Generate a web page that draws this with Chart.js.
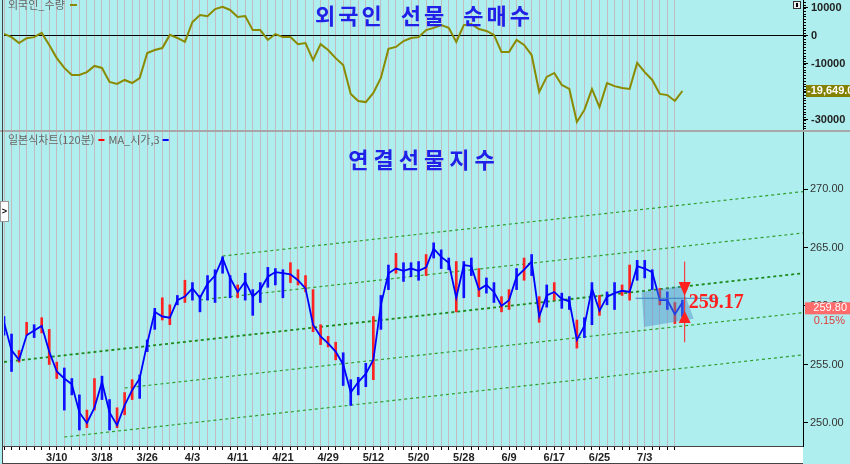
<!DOCTYPE html>
<html lang="ko">
<head>
<meta charset="utf-8" />
<title>연결선물지수</title>
<style>
  html, body { margin: 0; padding: 0; background: #afeeee; }
  canvas { display: block; }
</style>
</head>
<body>
<canvas id="chart" width="850" height="464"></canvas>
<script src="https://cdn.jsdelivr.net/npm/chart.js@4.4.1/dist/chart.umd.min.js"></script>
<script>
// 거래일 (2014)
const dates = ['2/27','2/28','3/3','3/4','3/5','3/6','3/7','3/10','3/11','3/12','3/13','3/14','3/17','3/18','3/19','3/20','3/21','3/24','3/25','3/26',
  '3/27','3/28','3/31','4/1','4/2','4/3','4/4','4/7','4/8','4/9','4/10','4/11','4/14','4/15','4/16','4/17','4/18','4/21','4/22','4/23',
  '4/24','4/25','4/28','4/29','4/30','5/2','5/7','5/8','5/9','5/12','5/13','5/14','5/15','5/16','5/19','5/20','5/21','5/22','5/23','5/26',
  '5/27','5/28','5/29','5/30','6/2','6/3','6/5','6/9','6/10','6/11','6/12','6/13','6/16','6/17','6/18','6/19','6/20','6/23','6/24','6/25',
  '6/26','6/27','6/30','7/1','7/2','7/3','7/4','7/7','7/8','7/9','7/10'];
const labeledDates = ['3/10','3/18','3/26','4/3','4/11','4/21','4/29','5/12','5/20','5/28','6/9','6/17','6/25','7/3'];

// 외국인 선물 누적 순매수 (계약)
const foreign = [700,-400,-2500,-800,-400,1100,-3200,-7900,-11400,-13900,-13900,-12900,-10700,-11400,-16400,-17100,-15700,-16800,-15000,-6100,
  -5000,-4300,400,-700,-2100,5000,7500,7100,9600,10400,9300,6800,7100,2100,2100,-1400,700,-400,-400,-2900,
  -2500,-8600,-2900,-5000,-7900,-10400,-20700,-23200,-23600,-20300,-15000,-4600,-3900,-1800,-700,-400,2100,2900,3900,2900,
  -2100,3900,4300,2500,1800,400,-5700,-5700,-1400,-3200,-6800,-20000,-14600,-13200,-17500,-18900,-30700,-26400,-18900,-25400,
  -16800,-17900,-18600,-18900,-9600,-12900,-15700,-20700,-21100,-23200,-19649];

// 연결선물지수 : MA(시가,3), 고가, 저가
const ma = [258.6,256.2,255.4,257.5,257.9,258.3,256.1,254.4,253.8,253.3,250.9,250.0,251.3,253.5,250.9,249.8,251.5,252.8,253.8,256.8,
  259.5,259.1,259.0,260.5,260.8,261.5,260.7,261.9,262.6,264.1,262.4,261.2,262.1,260.8,261.4,262.5,262.9,262.8,262.7,262.2,
  261.5,258.4,257.4,256.8,256.1,255.0,252.6,253.5,254.2,255.4,260.1,262.8,263.2,263.0,263.2,263.0,263.3,264.9,264.2,263.7,
  260.7,263.5,263.4,261.4,261.8,261.2,260.0,260.5,262.5,263.1,263.8,259.1,260.9,261.2,260.6,260.4,257.1,258.3,261.5,259.6,
  260.8,261.1,261.3,261.2,263.4,263.2,262.9,260.5,260.5,259.3,260.3];
const hi = [259.1,257.6,256.2,258.6,258.4,259.0,258.0,255.2,254.7,253.8,252.4,251.1,253.8,254.0,252.0,251.3,252.6,253.7,254.1,257.1,
  259.8,260.7,260.1,260.9,262.2,262.0,260.9,262.6,263.1,264.2,262.6,261.8,262.8,261.4,262.0,263.3,263.2,263.1,263.7,263.1,
  262.6,261.4,258.4,257.4,256.9,256.0,253.7,253.9,255.1,259.1,260.9,263.5,264.5,263.7,263.7,263.8,264.4,265.4,264.8,264.1,
  263.8,263.8,264.1,263.2,262.4,262.0,260.8,261.4,263.2,264.1,264.4,260.8,261.8,262.0,261.1,260.8,258.8,259.0,262.0,260.9,
  261.2,262.0,261.8,263.5,263.9,263.9,263.1,261.5,261.2,260.3,260.5];
const lo = [257.5,254.4,255.2,257.5,257.3,257.7,255.0,253.8,251.1,252.4,249.4,249.6,251.1,252.0,249.4,249.6,250.7,252.0,252.1,256.1,
  258.0,258.8,258.4,260.1,260.3,260.5,259.5,260.5,260.3,262.8,260.7,260.7,260.5,259.2,260.3,261.6,261.8,260.7,262.0,261.8,
  261.2,257.8,256.7,256.5,255.4,253.2,251.5,252.4,253.1,253.7,258.0,261.4,262.8,262.1,262.5,262.2,262.6,264.1,263.2,263.1,
  259.5,260.7,262.6,260.8,261.1,260.3,259.5,259.7,261.4,262.2,262.6,258.6,259.9,260.5,259.8,259.7,256.4,257.3,258.4,259.2,
  260.1,259.7,260.9,260.5,262.2,262.4,261.4,260.1,259.7,258.5,259.1];

const foreignTicks = [-30000, -25000, -20000, -15000, -10000, -5000, 0, 5000, 10000];
const priceTicks = [250, 255, 260, 265, 270];

// 추세 채널: [시작 인덱스, 시작 가격, 끝 인덱스, 끝 가격]
const channels = [
  [29, 264.27, 106, 269.78],
  [26, 260.51, 106, 266.24],
  [0, 255.21, 106, 262.80],
  [16, 252.99, 106, 259.43],
  [8, 248.80, 106, 255.82]
];

const lastPrice = 259.80;
const lastChange = '0.15%';
const markPrice = 259.17;
// 마지막 구간 표시 (인덱스, 가격)
const markBox = [[84.6, 261.2], [89.9, 261.7], [91.5, 258.9], [84.9, 258.2]];
const markLevel = [83.8, 94.8, 260.66];
const markArrow = [90.3, 263.8, 256.9, 262.05, 260.85, 258.55, 259.6];

const back = '#afeeee';
const gridCol = '#c4bac0';
const sans = "'Liberation Sans', Arial, sans-serif";
const kr = "'Noto Sans CJK KR', sans-serif";

const noPad = (axis) => {
  axis.paddingTop = 0;
  axis.paddingBottom = 0;
  axis.paddingLeft = 0;
  axis.paddingRight = 0;
};

const panels = {
  id: 'panels',
  beforeDraw(chart) {
    const { ctx, chartArea: a, scales: { x } } = chart;
    ctx.save();
    ctx.fillStyle = back;
    ctx.fillRect(0, 0, chart.width, chart.height);
    ctx.fillStyle = '#fff';
    ctx.fillRect(a.left - 1, a.bottom, a.right - a.left + 1, x.bottom - a.bottom - 1);
    ctx.restore();
  },
  afterDatasetsDraw(chart) {
    const { ctx, scales: { x, yp } } = chart;
    ctx.save();
    // 선택 구간 박스
    ctx.fillStyle = 'rgba(70,140,200,0.45)';
    ctx.beginPath();
    markBox.forEach(([i, p], k) => {
      const px = x.getPixelForValue(i), py = yp.getPixelForValue(p);
      if (k === 0) ctx.moveTo(px, py); else ctx.lineTo(px, py);
    });
    ctx.closePath();
    ctx.fill();
    ctx.strokeStyle = '#3a7fc0';
    ctx.lineWidth = 1;
    const ly = yp.getPixelForValue(markLevel[2]);
    ctx.beginPath();
    ctx.moveTo(x.getPixelForValue(markLevel[0]), ly);
    ctx.lineTo(x.getPixelForValue(markLevel[1]), ly);
    ctx.stroke();
    // 화살표
    const ax = x.getPixelForValue(markArrow[0]);
    ctx.strokeStyle = '#ff2020';
    ctx.fillStyle = '#ff2020';
    ctx.beginPath();
    ctx.moveTo(ax, yp.getPixelForValue(markArrow[1]));
    ctx.lineTo(ax, yp.getPixelForValue(markArrow[2]));
    ctx.stroke();
    const tri = (base, tip) => {
      const b = yp.getPixelForValue(base), t = yp.getPixelForValue(tip);
      ctx.beginPath();
      ctx.moveTo(ax - 6, b);
      ctx.lineTo(ax + 6, b);
      ctx.lineTo(ax, t);
      ctx.closePath();
      ctx.fill();
    };
    tri(markArrow[3], markArrow[4]);
    tri(markArrow[5], markArrow[6]);
    ctx.font = "bold 20px 'Liberation Serif', 'DejaVu Serif', serif";
    ctx.textBaseline = 'middle';
    ctx.textAlign = 'left';
    ctx.fillText(markPrice.toFixed(2), ax + 4, yp.getPixelForValue(260.26));
    ctx.restore();
  },
  afterDraw(chart) {
    const { ctx, chartArea: a, scales: { x, yf, yp } } = chart;
    ctx.save();
    // 패널 구분선
    ctx.fillStyle = '#a8a8a8';
    ctx.fillRect(0, yf.bottom - 1, chart.width, 2);
    // 왼쪽 테두리와 날짜 영역
    ctx.strokeStyle = '#444';
    ctx.lineWidth = 1;
    ctx.beginPath();
    ctx.moveTo(a.left - 1.5, 0);
    ctx.lineTo(a.left - 1.5, x.bottom);
    ctx.moveTo(a.left - 1, a.bottom + 0.5);
    ctx.lineTo(a.right, a.bottom + 0.5);
    ctx.moveTo(a.left - 1, x.bottom - 0.5);
    ctx.lineTo(a.right, x.bottom - 0.5);
    ctx.stroke();
    // 보조 눈금
    ctx.strokeStyle = '#000';
    ctx.beginPath();
    for (let v = -33000; v <= 12000; v += 1000) {
      const py = Math.round(yf.getPixelForValue(v)) + 0.5;
      ctx.moveTo(a.right, py);
      ctx.lineTo(a.right + 3, py);
    }
    ctx.stroke();
    // 제목
    ctx.fillStyle = '#2020e8';
    ctx.textAlign = 'center';
    ctx.textBaseline = 'middle';
    ctx.font = 'bold 22px ' + kr;
    ctx.letterSpacing = '3px';
    ctx.fillText('외국인  선물  순매수', 424, 16);
    ctx.letterSpacing = '5px';
    ctx.fillText('연결선물지수', 424, 160);
    ctx.letterSpacing = '0px';
    // 범례
    ctx.textAlign = 'left';
    ctx.font = '11px ' + kr;
    ctx.fillStyle = '#666';
    ctx.fillText('외국인_수량', 8, 5);
    ctx.fillStyle = '#8a8a00';
    ctx.fillRect(70, 4, 7, 2);
    ctx.fillStyle = '#666';
    ctx.fillText('일본식차트(120분)', 8, 140);
    let lx = 8 + ctx.measureText('일본식차트(120분)').width + 4;
    ctx.fillStyle = '#ff0000';
    ctx.fillRect(lx, 139, 6, 2);
    lx += 10;
    ctx.fillStyle = '#666';
    ctx.fillText('MA_시가,3', lx, 140);
    lx += ctx.measureText('MA_시가,3').width + 3;
    ctx.fillStyle = '#0000ff';
    ctx.fillRect(lx, 139, 6, 2);
    // 현재값 표시
    const fy = yf.getPixelForValue(foreign[foreign.length - 1]);
    ctx.fillStyle = '#848000';
    ctx.fillRect(a.right + 3, fy - 6, chart.width - a.right - 3, 12);
    ctx.fillStyle = '#fff';
    ctx.font = 'bold 11px ' + sans;
    ctx.fillText(foreign[foreign.length - 1].toLocaleString('en-US', { minimumFractionDigits: 1 }), a.right + 4, fy);
    const py = yp.getPixelForValue(lastPrice);
    ctx.fillStyle = '#ff6a6a';
    ctx.fillRect(a.right + 2, py - 6, chart.width - a.right - 2, 12);
    ctx.fillStyle = '#fff';
    ctx.font = '11px ' + sans;
    ctx.textAlign = 'right';
    ctx.fillText(lastPrice.toFixed(2), chart.width - 3, py);
    ctx.fillStyle = '#e03a3a';
    ctx.fillText(lastChange, chart.width - 5, py + 13);
    // 작은 버튼
    ctx.fillStyle = '#fff';
    ctx.fillRect(0, 201, 9, 21);
    ctx.strokeStyle = '#999';
    ctx.strokeRect(0.5, 201.5, 8, 20);
    ctx.fillStyle = '#000';
    ctx.textAlign = 'center';
    ctx.font = 'bold 9px ' + sans;
    ctx.fillText('>', 4.5, 212);
    ctx.fillStyle = '#eee';
    ctx.fillRect(793, 1, 8, 8);
    ctx.strokeStyle = '#333';
    ctx.strokeRect(793.5, 1.5, 7, 7);
    ctx.fillStyle = '#000';
    ctx.fillRect(796, 3, 2, 4);
    ctx.restore();
  }
};

const channelSets = channels.map((c, k) => ({
  type: 'line',
  data: [{ x: c[0], y: c[1] }, { x: c[2], y: c[3] }],
  yAxisID: 'yp',
  borderColor: k === 2 ? '#1c8a1c' : '#2f9f2f',
  borderWidth: k === 2 ? 1.8 : 1.2,
  borderDash: [3, 3],
  pointRadius: 0
}));

new Chart(document.getElementById('chart'), {
  type: 'line',
  data: {
    datasets: [
      {
        type: 'line',
        data: ma.map((v, i) => ({ x: i, y: v })),
        yAxisID: 'yp',
        borderColor: '#0000ff',
        borderWidth: 1.8,
        pointRadius: 0,
        tension: 0
      },
      {
        type: 'bar',
        data: dates.map((d, i) => ({ x: i, y: [lo[i], hi[i]] })),
        yAxisID: 'yp',
        grouped: false,
        barThickness: 2,
        backgroundColor: dates.map((d, i) => (lo[i] + hi[i]) / 2 > ma[i] ? '#ff2222' : '#1010ff')
      },
      ...channelSets,
      {
        type: 'line',
        data: foreign.map((v, i) => ({ x: i, y: v })),
        yAxisID: 'yf',
        borderColor: '#8a8a00',
        borderWidth: 2,
        pointRadius: 0,
        tension: 0
      }
    ]
  },
  options: {
    responsive: false,
    animation: false,
    events: [],
    layout: { padding: { left: 4, top: 0, right: 0, bottom: 0 } },
    plugins: { legend: { display: false }, tooltip: { enabled: false } },
    scales: {
      x: {
        type: 'linear',
        min: 0,
        max: 106,
        offset: false,
        afterBuildTicks: (axis) => { axis.ticks = dates.slice(0, -1).map((d, i) => ({ value: i })); },
        afterFit: (axis) => { axis.height = 18; noPad(axis); },
        grid: { offset: false, color: gridCol, tickColor: '#000', tickLength: 4 },
        border: { display: false },
        ticks: {
          autoSkip: false,
          maxRotation: 0,
          padding: 1,
          color: '#222',
          font: { family: sans, size: 11, weight: 'bold' },
          callback: (v) => labeledDates.includes(dates[v]) ? dates[v] : ''
        }
      },
      yf: {
        position: 'right',
        stack: 'panels',
        stackWeight: 131,
        min: -33929,
        max: 12857,
        afterBuildTicks: (axis) => { axis.ticks = foreignTicks.map((v) => ({ value: v })); },
        afterFit: (axis) => { axis.width = 47; noPad(axis); },
        grid: { color: (c) => c.tick && c.tick.value === 0 ? '#000' : 'rgba(0,0,0,0)', tickColor: '#000', tickLength: 5 },
        border: { display: true, color: '#000' },
        ticks: { padding: 3, color: '#222', font: { family: sans, size: 11, weight: 'bold' }, callback: (v) => String(v) }
      },
      yp: {
        position: 'right',
        stack: 'panels',
        stackWeight: 315,
        min: 248.03,
        max: 274.96,
        afterBuildTicks: (axis) => { axis.ticks = priceTicks.map((v) => ({ value: v })); },
        afterFit: (axis) => { axis.width = 47; noPad(axis); },
        grid: { drawOnChartArea: false, tickColor: '#000', tickLength: 5 },
        border: { display: true, color: '#000' },
        ticks: { padding: 2, color: '#333', font: { family: sans, size: 11 }, callback: (v) => v.toFixed(2) }
      }
    }
  },
  plugins: [panels]
});
</script>
</body>
</html>
